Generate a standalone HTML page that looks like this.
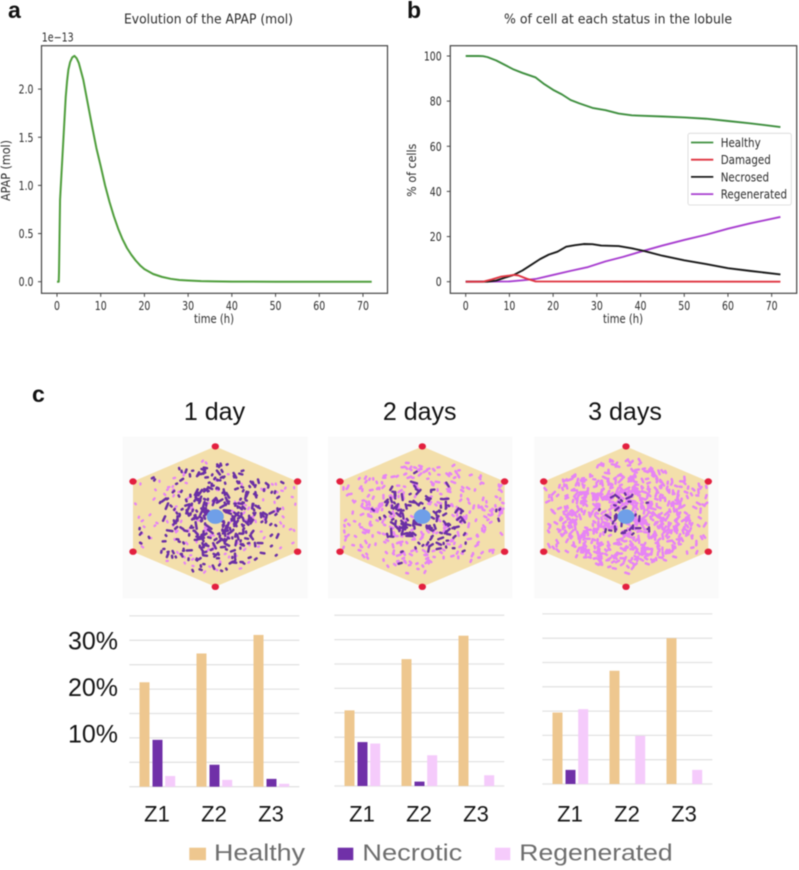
<!DOCTYPE html>
<html lang="en">
<head>
<meta charset="utf-8">
<title>APAP evolution and lobule cell status</title>
<style>
html,body{margin:0;padding:0;background:#fff;}
body{width:799px;height:870px;overflow:hidden;}
#fig{display:block;filter:blur(0.45px);}
.mpl{font-family:"DejaVu Sans",sans-serif;fill:#2c2c2c;}
.ltr{font-family:"Liberation Sans",sans-serif;font-weight:bold;font-size:23px;fill:#111;}
.head{font-family:"Liberation Sans",sans-serif;font-size:25px;fill:#111;text-anchor:middle;}
.big{font-family:"Liberation Sans",sans-serif;fill:#151515;}
.leg{font-family:"Liberation Sans",sans-serif;font-size:23px;fill:#6e6e6e;}
</style>
</head>
<body>
<svg id="fig" xmlns="http://www.w3.org/2000/svg" width="799" height="870" viewBox="0 0 799 870">
  <rect width="799" height="870" fill="#fff"/>

  <text class="ltr" x="8" y="18">a</text>
  <text class="ltr" x="407" y="18">b</text>
  <text class="ltr" x="32" y="402">c</text>

  <g id="chartA">
    <text class="mpl" x="124" y="23.5" font-size="13" textLength="169" lengthAdjust="spacingAndGlyphs">Evolution of the APAP (mol)</text>
    <text class="mpl" x="41.7" y="41.5" font-size="12" textLength="32" lengthAdjust="spacingAndGlyphs">1e−13</text>
    <text class="mpl" x="194" y="323" font-size="12" textLength="40" lengthAdjust="spacingAndGlyphs">time (h)</text>
    <text class="mpl" transform="translate(10,201) rotate(-90)" font-size="12" textLength="61" lengthAdjust="spacingAndGlyphs">APAP (mol)</text>
  </g>

  <g id="chartB">
    <text class="mpl" x="504" y="23.5" font-size="13" textLength="228" lengthAdjust="spacingAndGlyphs">% of cell at each status in the lobule</text>
    <text class="mpl" x="603" y="323" font-size="12" textLength="40" lengthAdjust="spacingAndGlyphs">time (h)</text>
    <text class="mpl" transform="translate(416,196.7) rotate(-90)" font-size="12" textLength="53" lengthAdjust="spacingAndGlyphs">% of cells</text>
  </g>

  <text class="head" x="214.5" y="420">1 day</text>
  <text class="head" x="419.7" y="420">2 days</text>
  <text class="head" x="625" y="420">3 days</text>

  <g id="lobules"></g>
  <g id="bars"></g>

  <g>
    <rect x="189.3" y="847.7" width="16.7" height="12.5" fill="#eec78f"/>
    <text class="leg" x="214" y="860.7" textLength="91" lengthAdjust="spacingAndGlyphs">Healthy</text>
    <rect x="337.7" y="847.7" width="15.6" height="12.5" fill="#7030a8"/>
    <text class="leg" x="362.3" y="860.7" textLength="100" lengthAdjust="spacingAndGlyphs">Necrotic</text>
    <rect x="495" y="847.7" width="15.3" height="12.5" fill="#f5cbfb"/>
    <text class="leg" x="519.3" y="860.7" textLength="153.4" lengthAdjust="spacingAndGlyphs">Regenerated</text>
  </g>
</svg>

<script>
// ---------- Panel a data ----------
const apapTimes  = [0,0.4,0.46,0.7,1,1.45,2,2.3,2.6,3,3.5,4,4.5,5,6,7,8,9,10,11,12,13,14,15,16,17,18,19,20,22,24,26,28,30,33,36,40,50,60,72];
const apapValues = [0,0,0.1,0.85,1.1,1.47,1.92,2.08,2.2,2.28,2.33,2.345,2.32,2.27,2.1,1.86,1.62,1.39,1.2,1.0,0.83,0.68,0.55,0.44,0.35,0.28,0.22,0.17,0.13,0.08,0.05,0.03,0.018,0.012,0.006,0.003,0.001,0,0,0];
const apapXTicks = [0,10,20,30,40,50,60,70];
const apapYTicks = [0,0.5,1,1.5,2];
const apapYTickLabels = ["0.0","0.5","1.0","1.5","2.0"];

// ---------- Panel b data ----------
const statusXTicks = [0,10,20,30,40,50,60,70];
const statusYTicks = [0,20,40,60,80,100];
const healthyTimes  = [0,3,4,5,7,9,11,13,16,18,20,22,24,26,29,32,35,38,45,50,55,60,65,72];
const healthyValues = [100,100,99.9,99.5,98,96,94,92.5,90.5,87.5,85,83,80.5,79,77,76,74.5,73.7,73.2,72.8,72.2,71.2,70.2,68.5];
const damagedTimes  = [0,4,6,8,10,11,12,14,16,72];
const damagedValues = [0,0,1,2.2,2.7,3,2.8,1.3,0.1,0];
const necrosedTimes  = [0,5,7,9,11,13,15,17,19,21,23,25,27,29,31,35,38,41,45,50,55,60,65,72];
const necrosedValues = [0,0,0.5,1.8,3,5,7.5,10,12,13.3,15.5,16.2,16.7,16.6,16,15.8,14.8,13.5,11.5,9.5,7.8,6,4.8,3.2];
const regeneratedTimes  = [0,10,13,16,20,24,28,32,36,40,45,50,55,60,65,72];
const regeneratedValues = [0,0.1,0.6,1.2,3,4.8,6.5,9,11,13.3,16,18.5,20.8,23.5,25.8,28.7];
const statusLegendLabels = ["Healthy","Damaged","Necrosed","Regenerated"];

// ---------- Panel c data ----------
const zoneLabels = ["Z1","Z2","Z3"];
const barTicks = [0,5,10,15,20,25,30,35];
const barTickLabelValues = [10,20,30];
const day1Healthy = [21.4,27.3,31.1];
const day1Necrotic = [9.6,4.5,1.6];
const day1Regenerated = [2.2,1.4,0.6];
const day2Healthy = [15.5,26,30.8];
const day2Necrotic = [9,0.9,0];
const day2Regenerated = [8.7,6.3,2.2];
const day3Healthy = [14.7,23.3,30];
const day3Necrotic = [2.9,0,0];
const day3Regenerated = [15.4,9.9,2.9];

const NS = 'http://www.w3.org/2000/svg';
function mk(tag, parent, attrs){
  const el = document.createElementNS(NS, tag);
  for (const k in attrs) el.setAttribute(k, attrs[k]);
  parent.appendChild(el);
  return el;
}
function linePath(ts, vs, x, y){
  return ts.map((t,i)=>(i?'L':'M')+x(t).toFixed(2)+' '+y(vs[i]).toFixed(2)).join(' ');
}
function squeezedText(parent, x, y, str, anchor, sx){
  const t = mk('text', parent, {class:'mpl','font-size':'12','text-anchor':anchor,
    transform:'translate('+x+','+y+') scale('+(sx||0.78)+',1)'});
  t.textContent = str;
  return t;
}

// ---------- Line chart frame ----------
function drawFrame(g, box, x, y, xTicks, yTicks, yLabels, labelEnd){
  const frame = mk('rect', g, {x:box.l,y:box.t,width:box.r-box.l,height:box.b-box.t,fill:'none',stroke:'#444','stroke-width':1.2});
  
  
  xTicks.forEach(v=>{
    const tick = mk('line', g, {x1:x(v),x2:x(v),y1:box.b,y2:box.b+3.5,stroke:'#444','stroke-width':1});
    
    
    const label = squeezedText(g, x(v), 310, String(v), 'middle');
    
    
  });
  yTicks.forEach((v,i)=>{
    const tick = mk('line', g, {x1:box.l-3.5,x2:box.l,y1:y(v),y2:y(v),stroke:'#444','stroke-width':1});
    
    
    const label = squeezedText(g, labelEnd, y(v)+4.5, yLabels[i], 'end');
    
    
  });
}

// ---------- Panel a ----------
(function(){
  const g = document.getElementById('chartA');
  const box = {l:41.5,r:387.5,t:45.7,b:293.3};
  const x = t => 57 + t*4.371;
  const y = v => 281.7 - v*96.3;
  drawFrame(g, box, x, y, apapXTicks, apapYTicks, apapYTickLabels, 33.5);
  const line = mk('path', g, {d:linePath(apapTimes, apapValues, x, y),fill:'none',stroke:'#4f9e3c','stroke-width':2,'stroke-linejoin':'round'});
  
  
})();

// ---------- Panel b ----------
(function(){
  const g = document.getElementById('chartB');
  const box = {l:450.3,r:796.7,t:45.7,b:293.3};
  const x = t => 465.7 + t*4.371;
  const y = v => 281.7 - v*2.257;
  drawFrame(g, box, x, y, statusXTicks, statusYTicks, statusYTicks.map(String), 441.7);

  const green = mk('path', g, {d:linePath(healthyTimes, healthyValues, x, y),fill:'none',stroke:'#3f8f3f','stroke-width':1.9,'stroke-linejoin':'round'});
  
  
  const purple = mk('path', g, {d:linePath(regeneratedTimes, regeneratedValues, x, y),fill:'none',stroke:'#a83fd0','stroke-width':1.9,'stroke-linejoin':'round'});
  
  
  const black = mk('path', g, {d:linePath(necrosedTimes, necrosedValues, x, y),fill:'none',stroke:'#1a1a1a','stroke-width':1.9,'stroke-linejoin':'round'});
  
  
  const red = mk('path', g, {d:linePath(damagedTimes, damagedValues, x, y),fill:'none',stroke:'#df3440','stroke-width':1.9,'stroke-linejoin':'round'});
  
  

  const legend = mk('g', g, {});
  
  
  const legBox = mk('rect', legend, {x:688,y:133.3,width:103.3,height:71.7,rx:2,fill:'#fff',stroke:'#d8d8d8','stroke-width':0.8});
  
  
  const legColors = ['#3f8f3f','#df3440','#1a1a1a','#a83fd0'];
  statusLegendLabels.forEach((lab,i)=>{
    const ly = 142.5 + i*17.2;
    const sw = mk('line', legend, {x1:691,x2:713.3,y1:ly,y2:ly,stroke:legColors[i],'stroke-width':1.8});
    
    
    const t = squeezedText(legend, 720.7, ly+4.5, lab, 'start', 0.86);
    
    
  });
})();

// ---------- Panel c: bar charts ----------
(function(){
  const root = document.getElementById('bars');
  const panels = [
    {id:'day-1',left:129.3,base:786.7,k:4.88,h:day1Healthy,n:day1Necrotic,r:day1Regenerated,labels:true},
    {id:'day-2',left:334.3,base:786,k:4.88,h:day2Healthy,n:day2Necrotic,r:day2Regenerated,labels:false},
    {id:'day-3',left:542.3,base:784,k:4.86,h:day3Healthy,n:day3Necrotic,r:day3Regenerated,labels:false}
  ];
  panels.forEach(p=>{
    const g = mk('g', root, {});
    
    
    const y = v => p.base - v*p.k;
    const xc = i => p.left + 28.2 + i*57;
    barTicks.forEach(v=>{
      const l = mk('line', g, {x1:p.left,x2:p.left+170,y1:y(v),y2:y(v),stroke:'#e3e3e3','stroke-width':1.3});
      
      
    });
    const series = [[p.h,-13,'#eec78f','healthy'],[p.n,0,'#7030a8','necrotic'],[p.r,12.7,'#f5cbfb','regenerated']];
    series.forEach(s=>{
      s[0].forEach((v,i)=>{
        if (v <= 0) return;
        const b = mk('rect', g, {x:xc(i)+s[1]-5,y:y(v),width:10,height:v*p.k,fill:s[2]});
        
        
      });
    });
    zoneLabels.forEach((z,i)=>{
      const t = mk('text', g, {class:'big',x:xc(i)-0.5,y:821.7,'text-anchor':'middle','font-size':'22'});
      t.textContent = z;
      
      
    });
    if (p.labels) barTickLabelValues.forEach(v=>{
      const t = mk('text', g, {class:'big',x:118,y:789.4 - v*4.67,'text-anchor':'end','font-size':'25'});
      t.textContent = v + '%';
      
      
    });
  });
})();

// ---------- Panel c: lobule maps (illustrative speckle texture, seeded) ----------
(function(){
  const root = document.getElementById('lobules');
  const maps = [
    {id:'day-1',bgx:122.7,bgw:185,cx:215.3,seed:11,
      purple:{n:1200,len:[1,7.5],w:2.5,p:r=>Math.max(0.12,0.95-0.95*r)},
      pink:{n:300,len:[1,2.5],w:2.3,p:r=>r<0.15?0:0.55}},
    {id:'day-2',bgx:328,bgw:184.3,cx:422.3,seed:47,
      purple:{n:1300,len:[1.2,8],w:2.4,p:r=>r<0.58?Math.max(0.08,0.98-1.5*r):0.012},
      pink:{n:800,len:[1.2,5],w:2.5,p:r=>r<0.2?0.08:(r>0.8?0.42:0.58)}},
    {id:'day-3',bgx:534.3,bgw:184.4,cx:626,seed:83,
      purple:{n:520,len:[1.2,6],w:2.3,p:r=>r<0.34?1-1.6*r:0},
      pink:{n:1500,len:[2,7],w:2.5,p:r=>r<0.12?0.15:(r>0.78?0.3:0.62)}}
  ];
  maps.forEach(m=>{
    let s = m.seed;
    const rnd = () => { s = (s*1664525 + 1013904223) % 4294967296; return s/4294967296; };
    const cy = 516.6, rx = 82.3, ry = 70.2;
    const g = mk('g', root, {});
    
    
    const bg = mk('rect', g, {x:m.bgx,y:436.7,width:m.bgw,height:161.6,fill:'#fafafa'});
    
    
    const pts = [[0,-ry],[rx,-ry/2],[rx,ry/2],[0,ry],[-rx,ry/2],[-rx,-ry/2]].map(p=>[m.cx+p[0],cy+p[1]]);
    const hex = mk('polygon', g, {points:pts.map(p=>p.join(',')).join(' '),fill:'#f3dfab'});
    
    

    const speckle = cfg => {
      let d = '';
      for (let i=0;i<cfg.n;i++){
        const dx = (rnd()*2-1)*rx*0.98, dy = (rnd()*2-1)*ry*0.85;
        const a = rnd(), b = rnd(), c = rnd();
        const lim = Math.min(57, ry*0.9*(1 - Math.abs(dx)/rx*0.5));
        if (Math.abs(dy) > lim) continue;
        const r = Math.sqrt(dx*dx + dy*dy*1.5)/rx;
        if (r < 0.11 || a > cfg.p(r)) continue;
        const fade = r > 0.7 ? 0.45 : 1 - 0.4*r;
        const len = (cfg.len[0] + (cfg.len[1]-cfg.len[0])*b*b*fade) * 0.5;
        const th = Math.atan2(dy,dx) + 1.571 + (c-0.5)*2.4;
        const x = m.cx+dx, y = cy+dy;
        d += 'M'+(x-Math.cos(th)*len).toFixed(1)+' '+(y-Math.sin(th)*len).toFixed(1)+
             'L'+(x+Math.cos(th)*len).toFixed(1)+' '+(y+Math.sin(th)*len).toFixed(1);
      }
      return d;
    };
    const pinkPath = mk('path', g, {d:speckle(m.pink),fill:'none',stroke:'#e684f5','stroke-width':m.pink.w,'stroke-linecap':'round'});
    
    
    const purplePath = mk('path', g, {d:speckle(m.purple),fill:'none',stroke:'#6a2fa5','stroke-width':m.purple.w,'stroke-linecap':'round'});
    
    
    pts.forEach(p=>{
      const dot = mk('ellipse', g, {cx:p[0],cy:p[1],rx:3.7,ry:3.2,fill:'#e3203f'});
      
      
    });
    const vein = mk('ellipse', g, {cx:m.cx,cy:cy,rx:8.5,ry:7.3,fill:'#6f9fe8'});
    
    
  });
})();
</script>
</body>
</html>
